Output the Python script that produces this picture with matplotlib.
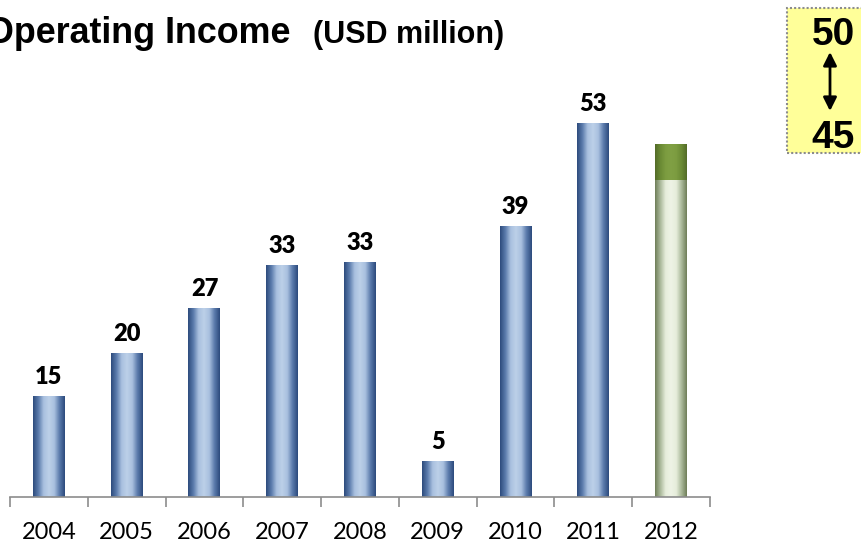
import matplotlib
matplotlib.use('Agg')
import matplotlib.pyplot as plt
import matplotlib.patches as mpatches
from matplotlib.colors import LinearSegmentedColormap
import numpy as np

years = ['2004', '2005', '2006', '2007', '2008', '2009', '2010', '2011', '2012']
actual = [14.3, 20.4, 26.8, 32.9, 33.3, 5.1, 38.4, 53.0]
actual_labels = ['15', '20', '27', '33', '33', '5', '39', '53']
forecast_low = 45
forecast_high = 50

W, H = 861, 546
fig = plt.figure(figsize=(W / 100, H / 100), dpi=100)
fig.patch.set_facecolor('white')

# axes placed in pixels: baseline at y=497, x from 10 to 710, top at y=100
ax = fig.add_axes([10 / W, (H - 497) / H, 700 / W, 397 / H])
px_per_unit = 7.05
ax.set_xlim(-0.5, 8.5)
ax.set_ylim(0, 397 / px_per_unit)

blue_cm = LinearSegmentedColormap.from_list(
    'blue', ['#2c4a7c', '#5a7aab', '#a9c0df', '#bcd0e8', '#a9c0df', '#5a7aab', '#2c4a7c'])
pale_cm = LinearSegmentedColormap.from_list(
    'pale', ['#6e7d58', '#aab89a', '#e6eddb', '#eef3e6', '#e6eddb', '#aab89a', '#6e7d58'])
olive_cm = LinearSegmentedColormap.from_list(
    'olive', ['#536b28', '#6a8a34', '#7c9c40', '#80a044', '#7c9c40', '#6a8a34', '#536b28'])

grad = np.linspace(0, 1, 256).reshape(1, -1)
bw = 0.41


def shade(bars, cmap):
    for b in bars:
        x0, y0 = b.get_x(), b.get_y()
        ax.imshow(grad, cmap=cmap, aspect='auto', zorder=2,
                  extent=[x0, x0 + b.get_width(), y0, y0 + b.get_height()])
        b.set_alpha(0)


xs = np.arange(len(years))
bars = ax.bar(xs[:8], actual, width=bw, zorder=1)
shade(bars, blue_cm)
low = ax.bar(xs[8], forecast_low, width=bw, zorder=1)
shade(low, pale_cm)
high = ax.bar(xs[8], forecast_high - forecast_low, bottom=forecast_low, width=bw, zorder=1)
shade(high, olive_cm)

for x, v, lab in zip(xs[:8], actual, actual_labels):
    ax.text(x, v + 1.7, lab, ha='center', va='baseline', fontsize=17,
            fontweight='heavy', family='Lato', color='black')

# axis styling
for sp in ['top', 'right', 'left']:
    ax.spines[sp].set_visible(False)
ax.spines['bottom'].set_color('#8c8c8c')
ax.spines['bottom'].set_linewidth(1.2)
ax.set_yticks([])
ax.set_xticks(np.arange(-0.5, 9, 1))
ax.set_xticklabels([])
ax.tick_params(axis='x', which='major', length=7, color='#8c8c8c', width=1.2)
ax.set_xticks(xs, minor=True)
ax.set_xticklabels(years, minor=True, fontsize=17, family='Lato')
ax.tick_params(axis='x', which='minor', length=0, pad=18)
ax.set_xlim(-0.5, 8.5)

# title
fig.text(-14 / W, 1 - 43 / H, 'Operating Income', fontsize=25.8, fontweight='bold',
         family='Liberation Sans', va='baseline', ha='left')
fig.text(313 / W, 1 - 43 / H, '(USD million)', fontsize=22, fontweight='bold',
         family='Liberation Sans', va='baseline', ha='left')

# forecast range box
box = mpatches.Rectangle((787 / W, 1 - 153 / H), 80 / W, 145 / H,
                         transform=fig.transFigure, facecolor='#ffff99',
                         edgecolor='#8c8c8c', linestyle=(0, (1, 1)), linewidth=1.5)
fig.add_artist(box)
fig.text(833 / W, 1 - 45 / H, str(forecast_high), fontsize=28, fontweight='bold',
         family='Liberation Sans', ha='center', va='baseline')
fig.text(833 / W, 1 - 148 / H, str(forecast_low), fontsize=28, fontweight='bold',
         family='Liberation Sans', ha='center', va='baseline')
arrow = mpatches.FancyArrowPatch((830 / W, 1 - 52 / H), (830 / W, 1 - 111 / H),
                                 transform=fig.transFigure, arrowstyle='<|-|>',
                                 mutation_scale=20, color='black', linewidth=2,
                                 shrinkA=0, shrinkB=0)
fig.add_artist(arrow)

fig.savefig('out.png', dpi=100)
